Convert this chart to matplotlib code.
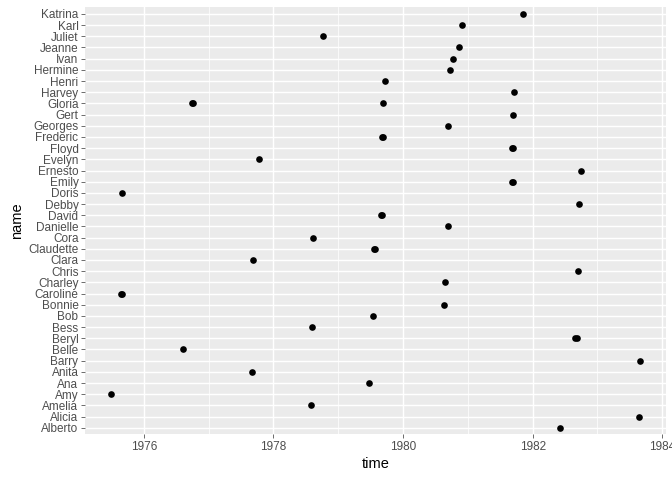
import matplotlib
matplotlib.use('Agg')
import matplotlib.pyplot as plt
from matplotlib.ticker import MultipleLocator

plt.rcParams['font.family'] = ['Liberation Sans', 'DejaVu Sans']

# storm name and observation time (decimal year), one entry per point
names = ['Alberto', 'Alicia', 'Amelia', 'Amy', 'Ana', 'Anita', 'Barry', 'Belle',
         'Beryl', 'Beryl', 'Bess', 'Bob', 'Bonnie', 'Caroline', 'Caroline',
         'Charley', 'Chris', 'Clara', 'Claudette', 'Claudette', 'Cora', 'Danielle',
         'David', 'David', 'Debby', 'Doris', 'Emily', 'Emily', 'Ernesto', 'Evelyn',
         'Floyd', 'Floyd', 'Frederic', 'Frederic', 'Georges', 'Gert',
         'Gloria', 'Gloria', 'Gloria', 'Harvey', 'Henri', 'Hermine', 'Ivan',
         'Jeanne', 'Juliet', 'Karl', 'Katrina']
times = [1982.43, 1983.64, 1978.58, 1975.50, 1979.47, 1977.67, 1983.65, 1976.60,
         1982.66, 1982.68, 1978.60, 1979.53, 1980.63, 1975.65, 1975.67,
         1980.65, 1982.70, 1977.69, 1979.55, 1979.57, 1978.61, 1980.69,
         1979.66, 1979.68, 1982.72, 1975.67, 1981.68, 1981.70, 1982.75, 1977.78,
         1981.68, 1981.70, 1979.67, 1979.69, 1980.69, 1981.70,
         1976.74, 1976.76, 1979.69, 1981.71, 1979.72, 1980.73, 1980.77,
         1980.87, 1978.77, 1980.91, 1981.85]

levels = sorted(set(names))
ypos = [levels.index(n) for n in names]

fig = plt.figure(figsize=(7, 5), dpi=96)
ax = fig.add_axes([0.1265, 0.0948, 0.991 - 0.1265, 0.985 - 0.0948])
ax.set_facecolor('#EBEBEB')
for s in ax.spines.values():
    s.set_visible(False)

ax.plot(times, ypos, 'o', color='black', markersize=5.0, markeredgewidth=0, zorder=3)

lo, hi = min(times), max(times)
pad = (hi - lo) * 0.05
ax.set_xlim(lo - pad, hi + pad)
ax.set_ylim(-0.6, len(levels) - 1 + 0.6)

ax.xaxis.set_major_locator(MultipleLocator(2))
ax.xaxis.set_minor_locator(MultipleLocator(1))
ax.set_yticks(range(len(levels)))
ax.set_yticklabels(levels)

ax.grid(which='major', color='white', linewidth=1.07)
ax.grid(which='minor', axis='x', color='white', linewidth=0.53)
ax.set_axisbelow(True)

ax.tick_params(axis='both', which='major', length=2.75, width=0.53, color='#333333',
               labelcolor='#4D4D4D', labelsize=8.8, pad=2.2)
ax.tick_params(axis='x', which='minor', length=0)

ax.set_xlabel('time', fontsize=11, labelpad=3)
ax.set_ylabel('name', fontsize=11, labelpad=3)

fig.savefig('out.png', dpi=96)
